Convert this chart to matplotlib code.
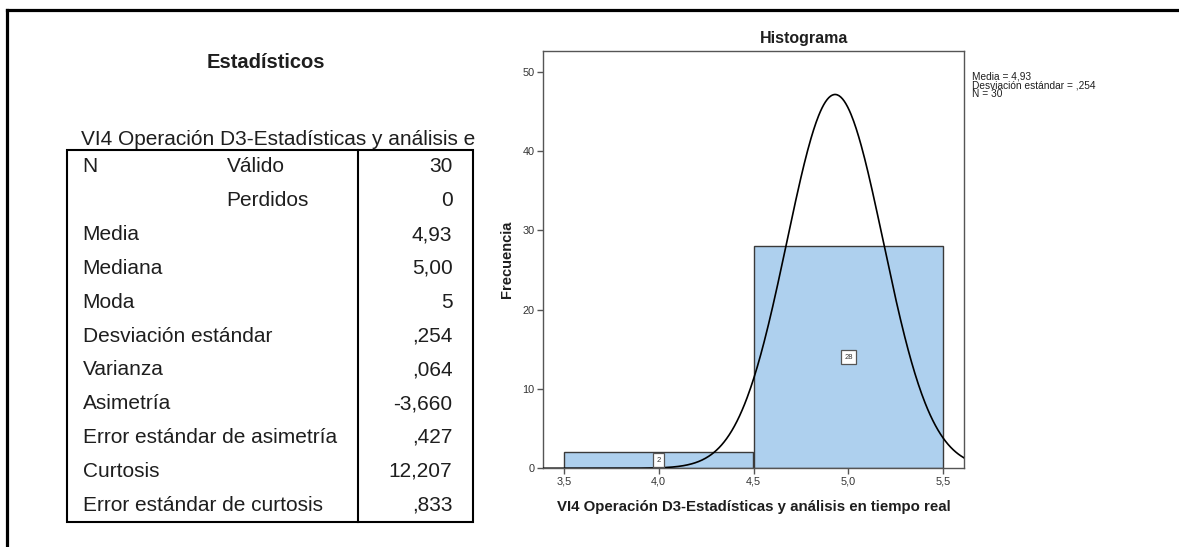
import numpy as np
import matplotlib.pyplot as plt
from matplotlib.patches import Rectangle
from matplotlib.lines import Line2D

W, H = 1179, 547

# tabla de estadisticos
table_title = "Estadísticos"
table_subtitle = "VI4 Operación D3-Estadísticas y análisis e"
row_labels = ["N", "", "Media", "Mediana", "Moda", "Desviación estándar", "Varianza",
              "Asimetría", "Error estándar de asimetría", "Curtosis",
              "Error estándar de curtosis"]
row_sublabels = ["Válido", "Perdidos", "", "", "", "", "", "", "", "", ""]
row_values = ["30", "0", "4,93", "5,00", "5", ",254", ",064", "-3,660", ",427",
              "12,207", ",833"]

# histograma
bin_edges = [3.5, 4.5, 5.5]
counts = [2, 28]
mean = 4.93
std_dev = 0.254
n_total = 30
x_ticks = [3.5, 4.0, 4.5, 5.0, 5.5]
x_tick_labels = ["3,5", "4,0", "4,5", "5,0", "5,5"]
y_ticks = [0, 10, 20, 30, 40, 50]
stats_lines = ["Media = 4,93", "Desviación estándar = ,254", "N = 30"]

plt.rcParams["font.family"] = ["Liberation Sans", "DejaVu Sans"]


def fx(x):
    return x / W


def fy(y):
    return 1 - y / H


fig = plt.figure(figsize=(W / 100, H / 100), dpi=100)
fig.patch.set_facecolor("white")

# outer frame (top and left only)
fig.add_artist(Line2D([fx(7.5), 1.0], [fy(9.5), fy(9.5)], transform=fig.transFigure,
                      color="black", lw=2.3))
fig.add_artist(Line2D([fx(7.5), fx(7.5)], [fy(9.5), 0.0], transform=fig.transFigure,
                      color="black", lw=2.3))

# table
text_color = "#1e1e1e"
fig.text(fx(266), fy(63), table_title, ha="center", va="center", fontsize=14.5,
         fontweight="bold", color=text_color)
fig.text(fx(81), fy(139.5), table_subtitle, ha="left", va="center", fontsize=15,
         color=text_color)

t_left, t_right, t_top, t_bottom, t_div = 67, 472.7, 150, 522, 357.7
fig.add_artist(Rectangle((fx(t_left), fy(t_bottom)), fx(t_right - t_left),
                         (t_bottom - t_top) / H, transform=fig.transFigure,
                         fill=False, edgecolor="black", lw=1.5))
fig.add_artist(Line2D([fx(t_div), fx(t_div)], [fy(t_top), fy(t_bottom)],
                      transform=fig.transFigure, color="black", lw=1.5))

row_h = (t_bottom - t_top) / len(row_values)
for i, (lab, sub, val) in enumerate(zip(row_labels, row_sublabels, row_values)):
    yc = t_top + row_h * (i + 0.5)
    if lab:
        fig.text(fx(82.7), fy(yc), lab, ha="left", va="center", fontsize=15,
                 color=text_color)
    if sub:
        fig.text(fx(226.7), fy(yc), sub, ha="left", va="center", fontsize=15,
                 color=text_color)
    fig.text(fx(452.5), fy(yc), val, ha="right", va="center", fontsize=15,
             color=text_color)

# histogram
ax_l, ax_r, ax_t, ax_b = 542.7, 964.3, 51, 468.3
ax = fig.add_axes([fx(ax_l), fy(ax_b), (ax_r - ax_l) / W, (ax_b - ax_t) / H])
widths = np.diff(bin_edges)
ax.bar(bin_edges[:-1], counts, width=widths, align="edge", color="#aed0ee",
       edgecolor="#3a3a3a", linewidth=1.0, zorder=2)

xs = np.linspace(3.38, 5.62, 500)
curve = n_total * widths[0] * np.exp(-0.5 * ((xs - mean) / std_dev) ** 2) / (
    std_dev * np.sqrt(2 * np.pi))
ax.plot(xs, curve, color="black", lw=1.2, zorder=3)

for left, w, c in zip(bin_edges[:-1], widths, counts):
    ax.text(left + w / 2, c / 2, str(c), ha="center", va="center", fontsize=5.5,
            color="#333333", zorder=4,
            bbox=dict(boxstyle="square,pad=0.45", facecolor="white",
                      edgecolor="#555555", linewidth=0.9))

ax.set_xlim(3.389, 5.611)
ax.set_ylim(0, 52.6)
ax.set_xticks(x_ticks)
ax.set_xticklabels(x_tick_labels)
ax.set_yticks(y_ticks)
ax.tick_params(axis="both", labelsize=7.8, colors="#555555", labelcolor="#333333",
               width=1.0, length=4.3, pad=1.5)
for s in ax.spines.values():
    s.set_color("#555555")
    s.set_linewidth(1.0)

fig.text(fx(804), fy(38), "Histograma", ha="center", va="center", fontsize=11.5,
         fontweight="bold", color=text_color)
fig.text(fx(507), fy(259.7), "Frecuencia", ha="center", va="center", rotation=90,
         fontsize=10.5, fontweight="bold", color=text_color)
fig.text(fx(754), fy(507), "VI4 Operación D3-Estadísticas y análisis en tiempo real",
         ha="center", va="center", fontsize=10.8, fontweight="bold", color=text_color)

for k, line in enumerate(stats_lines):
    fig.text(fx(972), fy(76.5 + 8.6 * k), line, ha="left", va="center", fontsize=7.3,
             color=text_color)

plt.savefig("out.png", dpi=100)
